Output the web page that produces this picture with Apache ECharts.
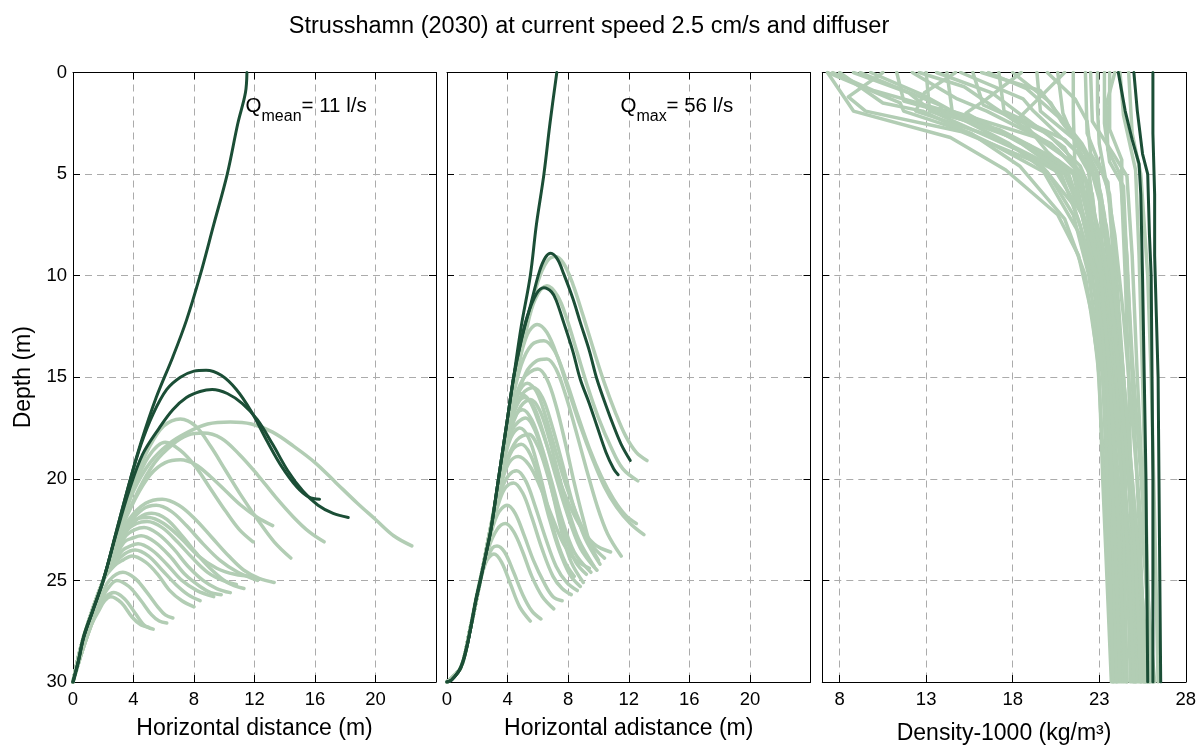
<!DOCTYPE html>
<html>
<head>
<meta charset="utf-8">
<script src="https://cdn.jsdelivr.net/npm/echarts@6/dist/echarts.min.js"></script>
<style>
html,body{margin:0;padding:0;background:#fff;}
#chart{width:1198px;height:747px;}
</style>
</head>
<body>
<div id="chart"></div>
<script>
// ---------------- DATA ----------------
const titleText = 'Strusshamn (2030) at current speed 2.5 cm/s and diffuser';
const depthTicks = [0, 5, 10, 15, 20, 25, 30];
const distanceTicks = [0, 4, 8, 12, 16, 20];
const densityTicks = [8, 13, 18, 23, 28];

// Panel 1 (Q mean = 11 l/s): [horizontal distance, depth]
const panel1Dark = [
  [[0,30],[0.35,29],[0.7,27.8],[1.3,26.5],[2.0,25],[2.9,22.5],[3.8,20],[4.5,18.2],[5.5,16],[6.6,14],[7.5,12.2],[8.4,10],[9.3,7.5],[10.2,5],[10.9,2.5],[11.4,1],[11.5,0]],
  [[0,30],[0.35,29],[0.7,27.8],[1.3,26.5],[2.0,25],[2.9,22.5],[3.8,20],[4.5,18.3],[5.3,16.8],[6.2,15.6],[7.1,15.0],[8.0,14.7],[8.8,14.65],[9.8,14.9],[10.8,15.6],[11.8,16.7],[12.8,18.1],[13.8,19.4],[14.8,20.4],[15.6,20.9],[16.3,21.0]],
  [[0,30],[0.35,29],[0.7,27.8],[1.3,26.5],[2.0,25],[2.9,22.6],[3.7,20.6],[4.6,18.8],[5.7,17.5],[6.6,16.6],[7.5,16.0],[8.4,15.7],[9.2,15.6],[10.2,15.8],[11.2,16.3],[12.2,17.1],[13.2,18.3],[14.2,19.6],[15.2,20.6],[16.2,21.3],[17.2,21.7],[18.2,21.9]]
];
const panel1Light = [
  [[0,30],[0.7,27.8],[2.0,25],[3.0,22.6],[4.0,20.6],[5.1,19.2],[6.3,18.3],[7.6,17.7],[8.9,17.3],[10.4,17.2],[11.8,17.3],[13.2,17.7],[14.6,18.4],[16.0,19.2],[17.4,20.2],[18.8,21.2],[20.0,22.0],[21.2,22.8],[22.4,23.3]],
  [[0,30],[0.7,27.8],[2.0,25],[3.0,22.4],[4.0,20.2],[5.0,18.5],[6.0,17.4],[7.1,17.05],[8.1,17.4],[9.1,18.4],[10.1,19.6],[11.1,20.8],[12.2,22.0],[13.3,23.1],[14.4,23.9]],
  [[0,30],[0.7,27.8],[2.0,25],[3.1,22.6],[4.3,20.6],[5.4,19.2],[6.6,18.3],[7.6,17.85],[8.6,17.75],[9.8,18.0],[11.0,18.8],[12.2,19.8],[13.4,20.9],[14.6,21.9],[15.6,22.6],[16.6,23.1]],
  [[0,30],[0.7,27.8],[2.0,25],[3.0,22.7],[4.0,20.5],[5.0,18.9],[6.1,18.2],[7.1,18.6],[8.1,19.4],[9.1,20.5],[10.1,21.6],[11.0,22.5],[11.9,23.1]],
  [[0,30],[0.7,27.8],[2.0,25],[3.0,22.8],[4.1,21.0],[5.1,19.8],[6.1,19.2],[7.1,19.06],[8.1,19.3],[9.1,19.9],[10.1,20.6],[11.1,21.3],[12.2,21.9],[13.2,22.3]],
  [[0,30],[0.7,27.8],[2.0,25],[2.8,23.3],[3.7,22.0],[4.8,21.2],[5.9,21.0],[7.0,21.3],[8.1,22.0],[9.2,22.9],[10.3,23.8],[11.3,24.5],[12.3,24.9],[13.3,25.1]],
  [[0,30],[0.7,27.8],[2.0,25],[2.8,23.3],[3.6,22.3],[4.6,21.5],[5.5,21.3],[6.5,21.6],[7.5,22.3],[8.6,23.2],[9.7,24.0],[10.9,24.6],[12.2,25.0]],
  [[0,30],[0.7,27.8],[2.0,25],[2.8,23.5],[3.5,22.6],[4.4,21.9],[5.2,21.7],[6.2,22.0],[7.2,22.8],[8.2,23.7],[9.2,24.5],[10.2,25.1],[11.3,25.4]],
  [[0,30],[0.7,27.8],[2.0,25],[2.8,23.6],[3.5,22.6],[4.2,22.2],[4.9,22.1],[5.9,22.4],[6.9,23.1],[7.9,23.9],[8.9,24.6],[9.9,25.0],[10.8,25.2]],
  [[0,30],[0.7,27.8],[2.0,25],[2.8,23.7],[3.5,22.8],[4.1,22.5],[4.7,22.4],[5.6,22.7],[6.6,23.4],[7.6,24.3],[8.6,25.0],[9.5,25.4],[10.4,25.6]],
  [[0,30],[0.7,27.8],[2.0,25],[2.7,24.0],[3.4,23.1],[4.0,22.9],[4.5,22.8],[5.4,23.1],[6.4,23.8],[7.4,24.7],[8.4,25.3],[9.1,25.6],[9.8,25.7]],
  [[0,30],[0.7,27.8],[2.0,25],[2.7,24.1],[3.3,23.5],[3.8,23.3],[4.3,23.2],[5.2,23.5],[6.2,24.2],[7.2,25.0],[8.2,25.5],[9.3,25.8]],
  [[0,30],[0.7,27.8],[2.0,25],[2.7,24.2],[3.4,23.7],[4.1,23.5],[5.0,23.8],[5.9,24.5],[6.8,25.2],[7.6,25.7],[8.4,26.0]],
  [[0,30],[0.7,27.8],[2.0,25],[2.7,24.3],[3.3,24.0],[3.9,23.8],[4.8,24.1],[5.6,24.7],[6.4,25.5],[7.2,26.0],[8.0,26.3]],
  [[0,30],[0.7,27.8],[2.0,25],[2.8,23.4],[3.6,22.4],[4.3,21.95],[5.0,21.9],[6.0,22.2],[7.1,22.9],[8.3,23.8],[9.5,24.4],[10.7,24.7],[11.9,24.8]],
  [[0,30],[0.6,28.5],[1.2,27.2],[1.8,25.9],[2.4,25.0],[3.3,24.6],[4.1,24.9],[4.9,25.6],[5.6,26.3],[6.1,26.7],[6.6,26.85]],
  [[0,30],[0.6,28.5],[1.2,27.2],[1.8,26.1],[2.3,25.4],[2.9,25.0],[3.7,25.3],[4.5,26.0],[5.2,26.7],[5.7,27.0],[6.2,27.1]],
  [[0,30],[0.6,28.5],[1.2,27.2],[1.7,26.4],[2.2,25.8],[2.7,25.6],[3.4,25.9],[4.1,26.6],[4.7,27.2],[5.3,27.4]],
  [[0,30],[0.6,28.5],[1.2,27.2],[1.7,26.5],[2.1,26.0],[2.5,25.8],[3.2,26.1],[3.9,26.8],[4.5,27.2],[5.0,27.3]]
];

// Panel 2 (Q max = 56 l/s)
const panel2Dark = [
  [[0,30],[0.3,29.9],[0.9,29.3],[1.3,28.3],[1.6,27.2],[1.9,26],[2.2,25],[2.6,23.6],[2.9,22.5],[3.3,20.5],[3.6,19],[4.0,17],[4.4,15],[4.9,12.5],[5.5,10],[5.9,7.5],[6.4,5],[6.8,2.5],[7.25,0]],
  [[0,30],[0.3,29.9],[0.9,29.3],[1.3,28.3],[1.6,27.2],[1.9,26],[2.2,25],[2.6,23.6],[2.9,22.5],[3.3,20.5],[3.6,19],[4.0,17],[4.4,15],[4.9,13.2],[5.5,11.5],[6.1,9.8],[6.5,9.1],[6.85,8.9],[7.3,9.2],[7.7,9.9],[8.3,11.1],[8.8,12.3],[9.4,13.7],[9.9,15.1],[10.5,16.4],[11.0,17.4],[11.5,18.3],[12.1,19.1]],
  [[0,30],[0.3,29.9],[0.9,29.3],[1.3,28.3],[1.6,27.2],[1.9,26],[2.2,25],[2.6,23.6],[2.9,22.5],[3.3,20.5],[3.6,19],[4.0,17],[4.4,15],[4.8,13.5],[5.3,12.0],[5.9,10.9],[6.4,10.6],[6.9,10.8],[7.2,11.2],[7.7,12.3],[8.3,13.7],[8.8,15.1],[9.4,16.3],[9.9,17.4],[10.5,18.7],[11.0,19.5],[11.3,19.8]]
];
const panel2Light = [
  [[0,30],[0.9,29.3],[1.5,27.5],[2.2,25],[2.9,22.5],[3.5,20],[4.1,17],[4.6,14.8],[5.3,12.3],[6.0,10.3],[6.6,9.3],[7.16,9.06],[7.7,9.4],[8.3,10.4],[9.0,12.0],[9.7,13.7],[10.4,15.3],[11.1,16.7],[11.8,17.9],[12.5,18.7],[13.2,19.1]],
  [[0,30],[0.9,29.3],[1.5,27.5],[2.2,25],[2.9,22.5],[3.5,20],[4.1,17],[4.6,14.8],[5.2,12.8],[5.8,11.2],[6.6,10.5],[7.3,11.0],[7.9,12.1],[8.6,13.8],[9.3,15.5],[10.0,17.0],[10.8,18.4],[11.6,19.5],[12.6,20.1]],
  [[0,30],[0.9,29.3],[1.5,27.5],[2.2,25],[2.9,22.5],[3.5,20],[4.1,17],[4.7,14.5],[5.3,12.9],[5.95,12.4],[6.6,12.8],[7.3,14.0],[8.0,15.6],[8.8,17.4],[9.6,19.0],[10.4,20.4],[11.2,21.4],[12.1,22.2],[13.0,22.75]],
  [[0,30],[0.9,29.3],[1.5,27.5],[2.2,25],[2.9,22.5],[3.5,20],[4.2,16.6],[4.9,14.4],[5.6,13.4],[6.4,13.2],[7.1,13.7],[7.8,15.0],[8.6,16.8],[9.4,18.5],[10.2,19.9],[11.0,21.0],[11.8,21.8],[12.5,22.2]],
  [[0,30],[0.9,29.3],[1.5,27.5],[2.2,25],[2.9,22.5],[3.6,19.6],[4.4,16.6],[5.2,14.8],[5.9,14.2],[6.6,14.1],[7.2,14.6],[7.8,15.8],[8.5,17.6],[9.2,19.5],[9.9,21.3],[10.6,22.7],[11.5,23.8]],
  [[0,30],[0.9,29.3],[1.5,27.5],[2.2,25],[2.9,22.5],[3.6,19.4],[4.2,17.0],[4.7,15.8],[5.3,15.3],[5.9,15.7],[6.5,16.9],[7.2,18.7],[7.9,20.4],[8.7,22.0],[9.5,23.2],[10.4,23.9]],
  [[0,30],[0.9,29.3],[1.5,27.5],[2.2,25],[2.9,22.5],[3.6,19.5],[4.3,17.4],[4.9,16.4],[5.5,16.1],[6.1,16.6],[6.7,17.9],[7.3,19.6],[8.0,21.5],[8.7,23.0],[9.7,24.3]],
  [[0,30],[0.9,29.3],[1.5,27.5],[2.2,25],[2.9,22.4],[3.6,19.5],[4.2,17.5],[4.6,16.8],[5.0,16.6],[5.6,17.1],[6.2,18.3],[6.9,20.1],[7.6,22.0],[8.4,23.6],[9.5,24.6]],
  [[0,30],[0.9,29.3],[1.5,27.5],[2.2,25],[2.9,22.3],[3.6,19.6],[4.3,17.6],[5.2,17.0],[5.8,17.6],[6.4,19.0],[7.0,20.8],[7.6,22.7],[8.2,24.1],[9.0,25.1]],
  [[0,30],[0.9,29.3],[1.5,27.5],[2.2,25],[2.9,22.3],[3.6,19.7],[4.2,18.0],[4.8,17.5],[5.4,18.0],[6.0,19.4],[6.6,21.2],[7.2,22.9],[7.8,24.1],[8.4,24.8]],
  [[0,30],[0.9,29.3],[1.5,27.5],[2.2,25],[3.0,22.0],[3.8,19.4],[4.6,18.1],[5.4,17.8],[6.0,18.4],[6.6,19.7],[7.2,21.3],[7.9,23.0],[8.5,24.1],[9.2,24.7]],
  [[0,30],[0.9,29.3],[1.5,27.5],[2.2,25],[3.0,22.0],[3.7,19.8],[4.3,18.6],[4.9,18.3],[5.5,18.8],[6.1,20.1],[6.7,21.8],[7.4,23.5],[8.1,24.7],[8.8,25.3]],
  [[0,30],[0.9,29.3],[1.5,27.5],[2.2,25],[3.0,22.0],[3.6,20.2],[4.1,19.2],[4.7,18.9],[5.4,19.3],[6.1,20.3],[6.9,21.8],[7.7,23.2],[8.5,24.0],[9.4,24.4]],
  [[0,30],[0.9,29.3],[1.5,27.5],[2.2,25],[3.0,22.0],[3.6,20.5],[4.1,19.8],[4.6,19.6],[5.2,20.1],[5.8,21.3],[6.5,22.9],[7.2,24.3],[7.9,25.1],[8.6,25.5]],
  [[0,30],[0.9,29.3],[1.5,27.5],[2.2,25],[2.9,22.5],[3.5,21.0],[3.9,20.4],[4.4,20.2],[5.0,20.7],[5.6,21.9],[6.3,23.5],[7.0,24.8],[7.6,25.4],[8.2,25.7]],
  [[0,30],[0.9,29.3],[1.5,27.5],[2.2,25],[2.9,22.5],[3.5,19.8],[4.0,17.3],[4.4,16.2],[4.8,15.8],[5.4,16.1],[6.1,17.3],[6.9,19.0],[7.8,20.8],[8.7,22.2],[9.7,23.2],[10.8,23.6]],
  [[0,30],[0.9,29.3],[1.5,27.5],[2.2,25],[2.9,22.5],[3.6,19.5],[4.3,16.7],[5.0,15.1],[6.0,14.6],[6.6,15.1],[7.2,16.4],[7.8,18.2],[8.4,20.2],[9.0,22.0],[9.5,23.3],[10.0,24.0]],
  [[0,30],[0.9,29.3],[1.5,27.5],[2.2,25],[2.9,22.5],[3.6,19.5],[4.3,17.0],[5.0,15.8],[5.7,15.5],[6.3,16.0],[6.9,17.3],[7.6,19.2],[8.3,21.2],[9.1,22.9],[10.1,24.2]],
  [[0,30],[0.9,29.3],[1.5,27.5],[2.2,25],[2.9,22.4],[3.5,19.8],[4.1,17.6],[4.6,16.4],[5.1,16.0],[5.7,16.4],[6.3,17.6],[7.0,19.4],[7.8,21.4],[8.8,23.4],[9.9,24.5]],
  [[0,30],[0.9,29.3],[1.5,27.5],[2.1,25.3],[2.7,23.3],[3.3,21.8],[3.97,21.3],[4.5,21.7],[5.1,22.8],[5.7,24.0],[6.4,25.1],[7.0,25.8],[7.6,26.0]],
  [[0,30],[0.9,29.3],[1.5,27.5],[2.1,25.3],[2.7,23.5],[3.3,22.5],[3.86,22.2],[4.4,22.6],[5.0,23.6],[5.6,24.8],[6.3,25.8],[7.05,26.4]],
  [[0,30],[0.9,29.3],[1.5,27.5],[2.1,25.3],[2.6,24.0],[3.0,23.4],[3.3,23.3],[3.8,23.6],[4.4,24.6],[5.0,25.7],[5.6,26.5],[6.2,26.9]],
  [[0,30],[0.9,29.3],[1.5,27.5],[2.0,25.6],[2.5,24.2],[3.1,23.7],[3.6,24.1],[4.2,25.2],[4.8,26.3],[5.5,27.0]]
];

// Panel 3: density profiles [density-1000, depth]
const panel3Dark = [
  [[24.1,0],[24.5,1.9],[24.9,3.3],[25.3,4.5],[25.4,6],[25.5,10],[25.6,15],[25.7,20],[25.75,25],[25.8,30]],
  [[25.0,0],[25.2,1.9],[25.5,4.0],[25.8,5],[25.9,8],[26.0,10],[26.05,15],[26.1,20],[26.1,25],[26.1,30]],
  [[26.1,0],[26.1,3],[26.2,6],[26.2,9],[26.3,12],[26.4,15],[26.45,20],[26.5,25],[26.55,30]]
];
const panel3Light = [
  [[7.3,0],[8.8,1.9],[14.4,3.2],[17.6,4.8],[20.6,7],[21.8,9],[22.6,12],[23.0,15],[23.2,20],[23.7,30]],
  [[7.3,0],[11.5,1.5],[11.7,1.9],[15.6,3.0],[18.4,4.6],[21.0,7.2],[22.2,10],[22.9,14],[23.3,20],[23.8,30]],
  [[7.6,0],[10.0,0.9],[14.2,1.9],[17.8,3.5],[20.0,4.9],[21.5,7],[22.4,10],[23.2,15],[23.5,21],[23.9,30]],
  [[8.8,0],[12.0,1.0],[13.3,1.9],[18.5,3.9],[20.8,5],[21.9,7.5],[22.6,10],[23.3,15],[23.8,22],[24.1,30]],
  [[9.8,0],[12.8,1.1],[14.5,1.9],[19.0,3.6],[21.2,4.9],[22.0,7],[22.8,10],[23.5,15],[24.0,22],[24.3,30]],
  [[11.3,0],[11.7,1.4],[16.0,2.4],[19.8,4.0],[21.6,5],[22.3,8],[23.0,11],[23.6,15],[24.3,22],[24.6,30]],
  [[12.2,0],[14.8,1.3],[16.5,1.9],[20.2,3.5],[21.8,4.8],[22.6,7.5],[23.1,10],[23.8,15],[24.4,21],[24.9,30]],
  [[13.0,0],[13.2,1.9],[17.2,2.8],[20.6,4.3],[22.0,5.2],[22.5,8],[23.2,11],[23.9,16],[24.6,23],[25.1,30]],
  [[13.6,0],[16.8,1.0],[18.2,1.9],[21.0,3.7],[21.7,4.9],[22.3,7],[23.0,9],[23.9,14],[24.7,20],[25.3,30]],
  [[14.2,0],[14.5,1.9],[19.4,3.2],[21.4,4.4],[22.2,5.2],[22.8,8.5],[23.5,12],[24.2,17],[24.9,25],[25.2,30]],
  [[15.0,0],[18.6,1.3],[19.2,1.9],[21.8,4.0],[22.4,4.9],[22.7,7],[23.4,10],[24.1,15],[25.0,22],[25.5,30]],
  [[15.7,0],[16.3,1.6],[20.0,3.0],[21.9,4.6],[22.6,6],[23.0,9],[23.6,12],[24.3,17],[25.2,24],[25.7,30]],
  [[16.2,0],[19.6,0.9],[20.5,1.9],[22.0,3.5],[22.9,4.9],[23.3,8],[23.9,12],[24.6,18],[25.4,25],[25.9,30]],
  [[17.2,0],[17.5,1.9],[21.0,3.3],[22.5,4.6],[23.0,6],[23.2,9],[23.8,13],[24.8,20],[25.6,30]],
  [[18.0,0],[20.2,1.5],[20.8,2.4],[22.2,4.0],[22.4,5],[22.9,8],[23.7,11],[24.2,15],[24.8,21],[25.1,30]],
  [[19.4,0],[19.6,1.9],[22.0,3.6],[22.8,4.8],[23.3,7],[23.6,10],[24.0,15],[24.4,22],[24.6,30]],
  [[20.0,0],[21.6,1.3],[22.3,2.4],[22.5,4.0],[23.5,5.4],[23.8,9],[24.1,14],[24.5,20],[24.8,30]],
  [[21.5,0],[21.5,2.0],[21.6,4.8],[22.3,6.2],[22.8,9],[23.1,13],[23.5,20],[24.0,30]],
  [[22.2,0],[22.3,3.0],[23.0,4.5],[23.6,6],[24.0,10],[24.4,15],[25.0,22],[25.4,30]],
  [[22.5,0],[22.6,2.4],[23.8,4.0],[24.6,5.1],[24.9,9],[25.2,15],[25.6,22],[25.9,30]],
  [[23.6,0],[23.6,2.8],[24.3,4.3],[24.3,6],[24.5,10],[24.7,15],[24.9,23],[25.0,30]],
  [[23.9,0],[23.4,1.6],[23.5,3.8],[24.2,5.0],[24.6,9],[24.9,15],[25.4,24],[25.7,30]],
  [[24.2,0],[24.4,2.1],[25.1,4.8],[25.3,9],[25.5,15],[25.8,25],[26.0,30]],
  [[21.0,0],[19.6,1.2],[18.4,2.2],[20.0,3.9],[21.5,5.0],[22.2,7.5],[23.0,10],[23.7,15],[24.2,22],[24.4,30]],
  [[18.5,0],[16.5,1.3],[15.3,2.0],[18.5,3.5],[21.0,5.0],[22.0,7],[22.9,10],[23.4,15],[23.7,21],[24.0,30]],
  [[14.7,0],[12.9,1.0],[12.4,1.9],[17.0,3.2],[20.3,4.6],[22.0,7],[23.1,11],[24.0,17],[24.7,24],[25.0,30]],
  [[10.5,0],[8.5,1.2],[9.5,1.9],[15.0,2.9],[19.6,4.5],[21.5,6.5],[22.8,10],[23.5,16],[23.9,23],[24.2,30]],
  [[22.9,0],[22.9,1.8],[23.0,3.5],[23.3,4.9],[23.9,8],[24.4,12],[25.0,18],[25.8,26],[26.2,30]],
  [[20.6,0],[20.9,2.0],[21.7,3.6],[22.6,5],[23.4,7.5],[24.0,11],[24.5,16],[25.3,24],[25.8,30]],
  [[16.6,0],[18.8,0.8],[21.2,2.6],[22.4,4.3],[23.1,6],[23.6,9],[24.2,13],[24.9,20],[25.5,26],[25.6,30]],
  [[12.6,0],[15.2,0.7],[16.9,1.7],[20.6,3.8],[22.2,5.3],[23.2,8.5],[23.8,12],[24.5,18],[25.1,24],[25.4,30]],
  [[9.2,0],[13.8,1.6],[14.0,2.0],[18.0,3.2],[21.2,5.0],[22.3,7.5],[23.1,10],[23.6,15],[24.1,22],[24.5,30]],
  [[23.3,0],[23.3,2.5],[23.6,4.4],[24.4,5.6],[24.6,9.5],[24.9,14],[25.5,21],[26.1,30]],
  [[8.0,0],[10.5,1.5],[12.8,1.9],[17.0,3.6],[19.8,4.9],[21.9,8],[22.8,11],[23.3,16],[23.6,24],[23.8,30]],
  [[24.7,0],[24.9,3],[25.4,5],[25.8,10],[26.0,15],[26.2,22],[26.4,30]]
];

// ---------------- STYLE ----------------
const FONT = '"Liberation Sans", Arial, Helvetica, sans-serif';
const DARK = '#1b4e36';
const LIGHT = '#b2cdb4';
const GRIDLINE = '#ababab';

const grids = [
  {left: 73, top: 72.5, width: 363, height: 609.5},
  {left: 447, top: 72.5, width: 363.5, height: 609.5},
  {left: 822.3, top: 72.5, width: 363.5, height: 609.5}
].map(g => Object.assign({outerBoundsMode: 'none', containLabel: false}, g));

function xAxisMain(gi, min, max, name, nameGap, custom) {
  const a = {
    type: 'value', gridIndex: gi, position: 'bottom', min: min, max: max,
    name: name, nameLocation: 'middle', nameGap: nameGap,
    nameTextStyle: {fontSize: 23, fontFamily: FONT, color: '#000'},
    axisLine: {show: true, onZero: false, lineStyle: {color: '#000', width: 1}},
    axisTick: {show: true, inside: true, length: 7, lineStyle: {color: '#000', width: 1}},
    axisLabel: {show: true, margin: 8, fontSize: 18.5, fontFamily: FONT, color: '#000',
      formatter: v => (custom ? String(v) : (v >= 24 ? '' : String(v)))},
    splitLine: {show: true, lineStyle: {color: GRIDLINE, type: [7, 5], width: 1}}
  };
  if (custom) {
    a.axisTick.customValues = custom;
    a.axisLabel.customValues = custom;
  } else {
    a.interval = 4;
  }
  return a;
}
function xAxisTop(gi, min, max, custom) {
  const a = {
    type: 'value', gridIndex: gi, position: 'top', min: min, max: max,
    axisLine: {show: true, onZero: false, lineStyle: {color: '#000', width: 1}},
    axisTick: {show: true, inside: true, length: 7, lineStyle: {color: '#000', width: 1}},
    axisLabel: {show: false},
    splitLine: {show: false}
  };
  if (custom) { a.axisTick.customValues = custom; a.axisLabel.customValues = custom; } else { a.interval = 4; }
  return a;
}
function yAxisLeft(gi, showLabels) {
  return {
    type: 'value', gridIndex: gi, position: 'left', inverse: true, min: 0, max: 30, interval: 5,
    name: showLabels ? 'Depth (m)' : '', nameLocation: 'middle', nameGap: 38, nameRotate: 90,
    nameTextStyle: {fontSize: 23, fontFamily: FONT, color: '#000'},
    axisLine: {show: true, onZero: false, lineStyle: {color: '#000', width: 1}},
    axisTick: {show: true, inside: true, length: 7, lineStyle: {color: '#000', width: 1}},
    axisLabel: {show: showLabels, margin: 6, fontSize: 18.5, fontFamily: FONT, color: '#000'},
    splitLine: {show: true, lineStyle: {color: GRIDLINE, type: [7, 5], width: 1}}
  };
}
function yAxisRight(gi) {
  return {
    type: 'value', gridIndex: gi, position: 'right', inverse: true, min: 0, max: 30, interval: 5,
    axisLine: {show: true, onZero: false, lineStyle: {color: '#000', width: 1}},
    axisTick: {show: true, inside: true, length: 7, lineStyle: {color: '#000', width: 1}},
    axisLabel: {show: false},
    splitLine: {show: false}
  };
}

const xAxes = [
  xAxisMain(0, 0, 24, 'Horizontal distance (m)', 35, null),
  xAxisMain(1, 0, 24, 'Horizontal adistance (m)', 35, null),
  xAxisMain(2, 7, 28, 'Density-1000 (kg/m\u00b3)', 40, densityTicks),
  xAxisTop(0, 0, 24, null),
  xAxisTop(1, 0, 24, null),
  xAxisTop(2, 7, 28, densityTicks)
];
const yAxes = [
  yAxisLeft(0, true), yAxisLeft(1, false), yAxisLeft(2, false),
  yAxisRight(0), yAxisRight(1), yAxisRight(2)
];

function lineSeries(data, gi, color, width, smooth, z) {
  return {
    type: 'line', xAxisIndex: gi, yAxisIndex: gi, data: data,
    showSymbol: false, symbol: 'none', smooth: smooth, silent: true,
    lineStyle: {color: color, width: width, cap: 'round', join: 'round'},
    z: z, animation: false
  };
}

const series = [];
panel1Light.forEach(c => series.push(lineSeries(c, 0, LIGHT, 3.5, 0.35, 2)));
panel1Dark.forEach(c => series.push(lineSeries(c, 0, DARK, 3, 0.35, 3)));
panel2Light.forEach(c => series.push(lineSeries(c, 1, LIGHT, 3.5, 0.35, 2)));
panel2Dark.forEach(c => series.push(lineSeries(c, 1, DARK, 3, 0.35, 3)));
panel3Light.forEach(c => series.push(lineSeries(c, 2, LIGHT, 3.5, false, 2)));
panel3Dark.forEach(c => series.push(lineSeries(c, 2, DARK, 3, false, 3)));

function txt(text, x, y, size) {
  return {type: 'text', x: x, y: y, z: 100,
    style: {text: text, fontSize: size, fontFamily: FONT, fill: '#000',
      align: 'left', verticalAlign: 'middle', textAlign: 'left', textVerticalAlign: 'middle'}};
}

const option = {
  backgroundColor: '#ffffff',
  animation: false,
  title: {
    text: titleText, left: 584, top: 10, textAlign: 'center',
    textStyle: {fontSize: 23.5, fontWeight: 'normal', fontFamily: FONT, color: '#000'}
  },
  grid: grids,
  xAxis: xAxes,
  yAxis: yAxes,
  series: series,
  graphic: [
    txt('Q', 245.5, 106.3, 20.5), txt('mean', 261.5, 116.1, 16), txt('= 11 l/s', 301.5, 106.3, 20.5),
    txt('Q', 620.5, 106.3, 20.5), txt('max', 636.5, 116.1, 16), txt('= 56 l/s', 666.5, 106.3, 20.5)
  ]
};

const chart = echarts.init(document.getElementById('chart'), null, {renderer: 'canvas'});
chart.setOption(option);
</script>
</body>
</html>
